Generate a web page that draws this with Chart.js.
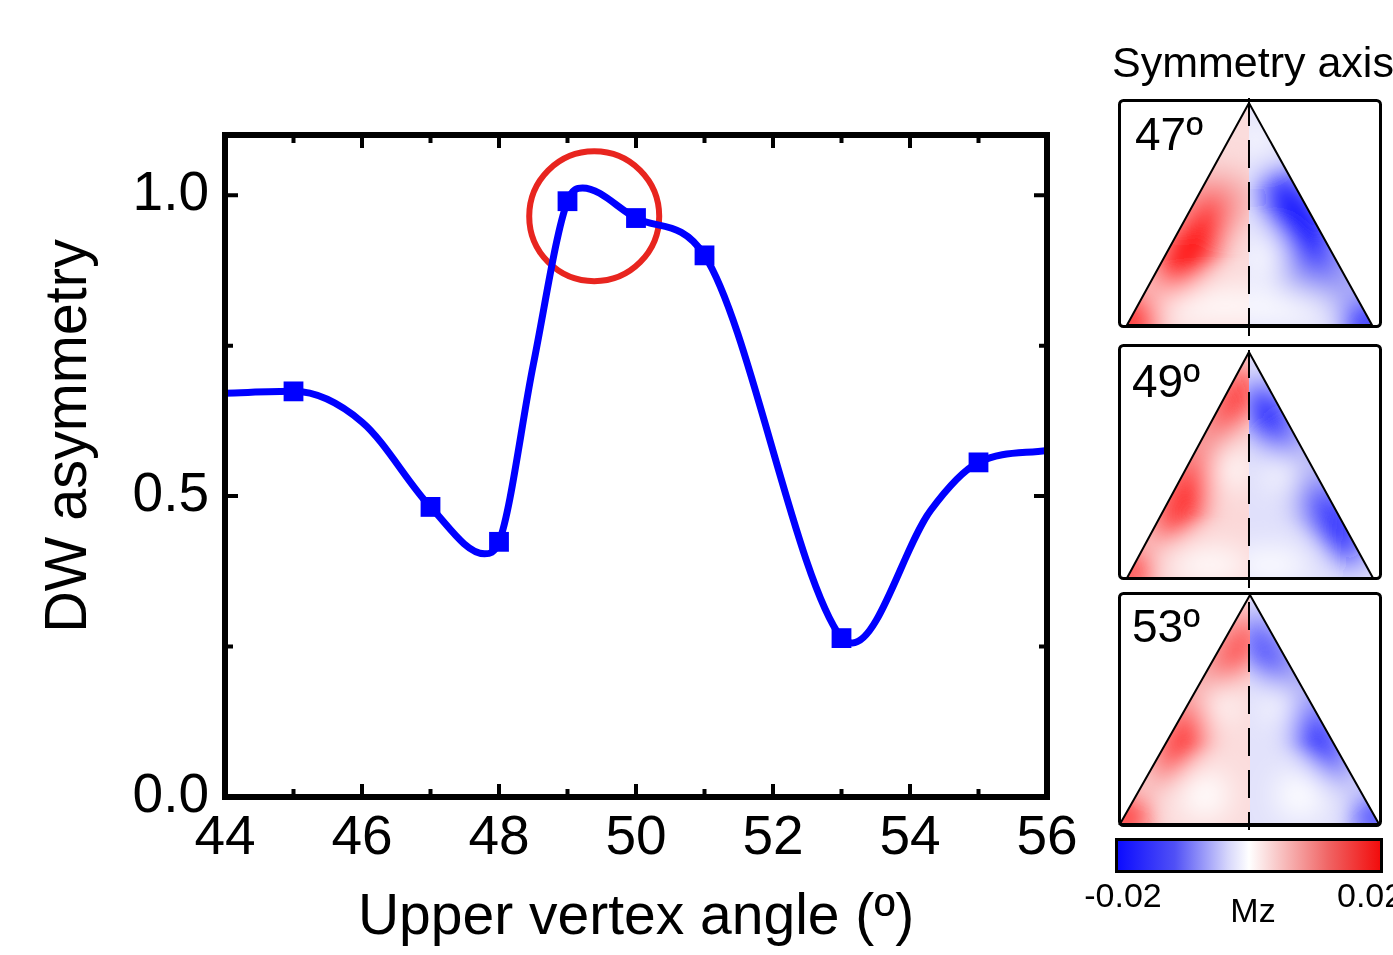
<!DOCTYPE html>
<html>
<head>
<meta charset="utf-8">
<script src="https://cdn.jsdelivr.net/npm/chart.js@4/dist/chart.umd.min.js"></script>
<style>
  html, body { margin: 0; padding: 0; background: #fff; }
  #wrap { position: relative; width: 1393px; height: 955px; overflow: hidden; }
  #chart { position: absolute; left: 0; top: 0; }
  #insets { position: absolute; left: 0; top: 0; pointer-events: none; }
  #insets text { font-family: "Liberation Sans", Arial, sans-serif; fill: #000; }
</style>
</head>
<body>
<div id="wrap">
  <canvas id="chart" width="1393" height="955"></canvas>
  <svg id="insets" width="1393" height="955" xmlns="http://www.w3.org/2000/svg">
    <defs>
      <filter id="soft" x="-60%" y="-60%" width="220%" height="220%">
        <feGaussianBlur stdDeviation="15"/>
      </filter>
      <clipPath id="l1"><polygon points="1249,103 1127,325 1249,325"/></clipPath>
      <clipPath id="r1"><polygon points="1249,103 1249,325 1372,325"/></clipPath>
      <clipPath id="l2"><polygon points="1249,352 1127,578 1249,578"/></clipPath>
      <clipPath id="r2"><polygon points="1249,352 1249,578 1373,578"/></clipPath>
      <clipPath id="l3"><polygon points="1250,595 1120,824 1250,824"/></clipPath>
      <clipPath id="r3"><polygon points="1250,595 1250,824 1379,824"/></clipPath>
      <linearGradient id="mzScale" x1="0" x2="1" y1="0" y2="0">
        <stop offset="0" stop-color="#0a0aff"/>
        <stop offset="0.22" stop-color="#5050f6"/>
        <stop offset="0.42" stop-color="#d6d6fb"/>
        <stop offset="0.5" stop-color="#ffffff"/>
        <stop offset="0.58" stop-color="#fad6d6"/>
        <stop offset="0.8" stop-color="#f06464"/>
        <stop offset="1" stop-color="#f20a0a"/>
      </linearGradient>
    </defs>

    <text x="1112" y="77" font-size="43">Symmetry axis</text>

    <!-- 47 -->
    <rect x="1119.5" y="100.5" width="261" height="226" rx="4" fill="#fff" stroke="#000" stroke-width="3"/>
    <g clip-path="url(#l1)">
      <rect x="1120" y="100" width="130" height="230" fill="#fbdcdc"/>
      <g filter="url(#soft)">
        <ellipse cx="1215" cy="200" rx="45" ry="30" fill="#f6b0b0"/>
        <ellipse cx="1193" cy="242" rx="60" ry="24" fill="#ff1010" transform="rotate(119 1193 242)"/>
        <circle cx="1134" cy="320" r="26" fill="#ff1a1a"/>
        <ellipse cx="1225" cy="306" rx="70" ry="14" fill="#ffffff"/>
      </g>
    </g>
    <g clip-path="url(#r1)">
      <rect x="1248" y="100" width="130" height="230" fill="#e2e2fb"/>
      <g filter="url(#soft)">
        <ellipse cx="1322" cy="275" rx="42" ry="30" fill="#9c9cf5"/>
        <ellipse cx="1300" cy="222" rx="60" ry="24" fill="#1010ff" transform="rotate(61 1300 222)"/>
        <circle cx="1366" cy="322" r="24" fill="#1a1aff"/>
        <ellipse cx="1270" cy="306" rx="60" ry="14" fill="#ffffff"/>
        <circle cx="1264" cy="258" r="18" fill="#ffffff"/>
        <circle cx="1256" cy="140" r="16" fill="#ffffff"/>
      </g>
    </g>
    <polygon points="1249,103 1127,325 1372,325" fill="none" stroke="#000" stroke-width="2"/>

    <!-- 49 -->
    <rect x="1119.5" y="345.5" width="261" height="233" rx="4" fill="#fff" stroke="#000" stroke-width="3"/>
    <g clip-path="url(#l2)">
      <rect x="1120" y="345" width="130" height="240" fill="#fbd8d8"/>
      <g filter="url(#soft)">
        <ellipse cx="1200" cy="455" rx="100" ry="20" fill="#f48e8e" transform="rotate(119 1200 455)"/>
        <ellipse cx="1234" cy="400" rx="36" ry="16" fill="#ff0c0c" transform="rotate(119 1234 400)"/>
        <ellipse cx="1186" cy="495" rx="50" ry="20" fill="#ff1414" transform="rotate(119 1186 495)"/>
        <circle cx="1132" cy="572" r="20" fill="#ff2020"/>
        <circle cx="1230" cy="468" r="20" fill="#ffffff"/>
        <ellipse cx="1210" cy="565" rx="40" ry="16" fill="#ffffff"/>
      </g>
    </g>
    <g clip-path="url(#r2)">
      <rect x="1248" y="345" width="130" height="240" fill="#e0e0fb"/>
      <g filter="url(#soft)">
        <ellipse cx="1300" cy="470" rx="100" ry="20" fill="#9090f2" transform="rotate(61 1300 470)"/>
        <ellipse cx="1270" cy="418" rx="38" ry="18" fill="#0c0cff" transform="rotate(61 1270 418)"/>
        <ellipse cx="1334" cy="522" rx="46" ry="18" fill="#1010ff" transform="rotate(61 1334 522)"/>
        <circle cx="1285" cy="472" r="18" fill="#ffffff"/>
        <ellipse cx="1270" cy="565" rx="40" ry="16" fill="#ffffff"/>
      </g>
    </g>
    <polygon points="1249,352 1127,578 1373,578" fill="none" stroke="#000" stroke-width="2"/>

    <!-- 53 -->
    <rect x="1119.5" y="593.5" width="261" height="232" rx="4" fill="#fff" stroke="#000" stroke-width="3"/>
    <g clip-path="url(#l3)">
      <rect x="1115" y="593" width="136" height="235" fill="#fbdcdc"/>
      <g filter="url(#soft)">
        <ellipse cx="1200" cy="700" rx="100" ry="22" fill="#f49a9a" transform="rotate(119 1200 700)"/>
        <ellipse cx="1238" cy="648" rx="36" ry="14" fill="#ff0c0c" transform="rotate(119 1238 648)"/>
        <ellipse cx="1185" cy="735" rx="46" ry="18" fill="#ff1414" transform="rotate(119 1185 735)"/>
        <circle cx="1126" cy="818" r="22" fill="#ff1a1a"/>
        <circle cx="1218" cy="704" r="18" fill="#ffffff"/>
        <circle cx="1205" cy="795" r="24" fill="#ffffff"/>
      </g>
    </g>
    <g clip-path="url(#r3)">
      <rect x="1249" y="593" width="136" height="235" fill="#e2e2fb"/>
      <g filter="url(#soft)">
        <ellipse cx="1300" cy="700" rx="100" ry="22" fill="#9a9af3" transform="rotate(61 1300 700)"/>
        <ellipse cx="1264" cy="650" rx="36" ry="14" fill="#0c0cff" transform="rotate(61 1264 650)"/>
        <ellipse cx="1316" cy="735" rx="46" ry="18" fill="#1010ff" transform="rotate(61 1316 735)"/>
        <circle cx="1374" cy="818" r="20" fill="#1a1aff"/>
        <circle cx="1282" cy="704" r="18" fill="#ffffff"/>
        <circle cx="1300" cy="795" r="24" fill="#ffffff"/>
      </g>
    </g>
    <polygon points="1250,595 1120,824 1379,824" fill="none" stroke="#000" stroke-width="2"/>

    <line x1="1249" y1="98" x2="1249" y2="830" stroke="#000" stroke-width="2" stroke-dasharray="28,14"/>

    <text x="1135" y="150" font-size="46">47º</text>
    <text x="1132" y="397" font-size="46">49º</text>
    <text x="1132" y="642" font-size="46">53º</text>

    <rect x="1116.5" y="839.5" width="265" height="32" fill="url(#mzScale)" stroke="#000" stroke-width="3"/>
    <text x="1123" y="907" font-size="34" text-anchor="middle">-0.02</text>
    <text x="1253" y="922" font-size="34" text-anchor="middle">Mz</text>
    <text x="1337" y="907" font-size="34">0.02</text>
  </svg>
</div>
<script>
// DW asymmetry vs upper vertex angle
const xMin = 44, xMax = 56, yMin = 0, yMax = 1.1;
const xTickValues = [44, 46, 48, 50, 52, 54, 56];
const yTickValues = [0, 0.5, 1.0];

// simulated points (squares)
const angles = [45, 47, 48, 49, 50, 51, 53, 55];
const asymmetry = [0.674, 0.482, 0.424, 0.990, 0.962, 0.900, 0.264, 0.556];

// smooth guide curve
const curveAngles = [44, 45, 46, 47, 47.79, 48, 48.5, 49, 49.22, 50, 51, 53, 53.16, 54.3, 55, 56];
const curveAsymmetry = [0.671, 0.674, 0.623, 0.482, 0.404, 0.424, 0.718, 0.990, 1.012, 0.962, 0.900, 0.264, 0.256, 0.476, 0.556, 0.576];

// highlighted region (red ring)
const ringAngle = [49.39];
const ringValue = [0.965];

const FONT = "'Liberation Sans', Arial, sans-serif";

const toPts = (xs, ys) => xs.map((x, i) => ({ x: x, y: ys[i] }));

// frame with inward ticks + axis titles
const frameTicks = {
  id: "frameTicks",
  afterDraw(chart) {
    const { ctx, chartArea: a, scales: { x, y } } = chart;
    ctx.save();
    ctx.strokeStyle = "#000";
    ctx.lineWidth = 4;
    ctx.beginPath();
    for (let v = xMin; v <= xMax; v += 1) {
      const px = x.getPixelForValue(v);
      const len = v % 2 === 0 ? 13 : 8;
      ctx.moveTo(px, a.bottom); ctx.lineTo(px, a.bottom - len);
      ctx.moveTo(px, a.top); ctx.lineTo(px, a.top + len);
    }
    for (let v = 0; v <= 1.0001; v += 0.25) {
      const py = y.getPixelForValue(v);
      const len = Math.round(v * 4) % 2 === 0 ? 13 : 8;
      ctx.moveTo(a.left, py); ctx.lineTo(a.left + len, py);
      ctx.moveTo(a.right, py); ctx.lineTo(a.right - len, py);
    }
    ctx.stroke();
    ctx.lineWidth = 6;
    ctx.strokeRect(a.left, a.top, a.right - a.left, a.bottom - a.top);

    ctx.fillStyle = "#000";
    ctx.font = "57px " + FONT;
    ctx.textAlign = "center";
    ctx.textBaseline = "alphabetic";
    ctx.fillText("Upper vertex angle (º)", (a.left + a.right) / 2, 934);

    ctx.translate(86, 436);
    ctx.rotate(-Math.PI / 2);
    ctx.scale(0.96, 1);
    ctx.font = "60px " + FONT;
    ctx.fillText("DW asymmetry", 0, 0);
    ctx.restore();
  }
};

new Chart(document.getElementById("chart"), {
  type: "scatter",
  data: {
    datasets: [
      {
        label: "ring",
        data: toPts(ringAngle, ringValue),
        pointStyle: "circle",
        pointRadius: 65,
        pointHoverRadius: 65,
        borderWidth: 6,
        borderColor: "#e8251f",
        backgroundColor: "rgba(0,0,0,0)",
        order: 3
      },
      {
        label: "curve",
        type: "line",
        data: toPts(curveAngles, curveAsymmetry),
        borderColor: "#0000ff",
        borderWidth: 7,
        pointRadius: 0,
        cubicInterpolationMode: "monotone",
        fill: false,
        order: 2
      },
      {
        label: "DW asymmetry",
        data: toPts(angles, asymmetry),
        pointStyle: "rect",
        pointRadius: 14,
        pointHoverRadius: 14,
        borderWidth: 0,
        backgroundColor: "#0000ff",
        order: 1
      }
    ]
  },
  options: {
    responsive: false,
    animation: false,
    events: [],
    layout: { padding: { left: 30, top: 135, right: 346, bottom: 0 } },
    plugins: { legend: { display: false }, tooltip: { enabled: false } },
    scales: {
      x: {
        type: "linear",
        min: xMin,
        max: xMax,
        afterFit: (s) => { s.height = 158; },
        afterBuildTicks: (s) => { s.ticks = xTickValues.map((v) => ({ value: v })); },
        grid: { display: false, drawTicks: false },
        border: { display: false },
        ticks: { padding: 9, color: "#000", font: { family: FONT, size: 55 }, maxRotation: 0 }
      },
      y: {
        type: "linear",
        min: yMin,
        max: yMax,
        afterFit: (s) => { s.width = 195; },
        afterBuildTicks: (s) => { s.ticks = yTickValues.map((v) => ({ value: v })); },
        grid: { display: false, drawTicks: false },
        border: { display: false },
        ticks: {
          padding: 16,
          color: "#000",
          font: { family: FONT, size: 55 },
          callback: (v) => Number(v).toFixed(1)
        }
      }
    }
  },
  plugins: [frameTicks]
});
</script>
</body>
</html>
